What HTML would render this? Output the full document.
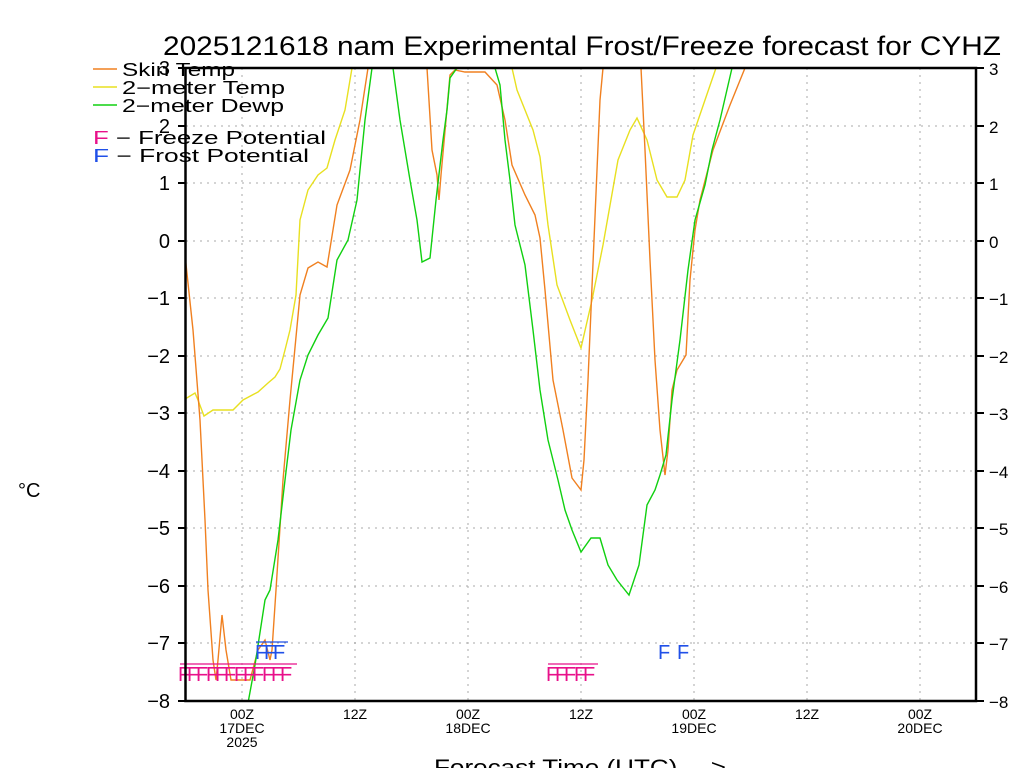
<!DOCTYPE html>
<html><head><meta charset="utf-8"><style>
html,body{margin:0;padding:0;background:#fff;}
svg{display:block;font-family:"Liberation Sans",sans-serif;}
</style></head><body>
<svg width="1024" height="768" viewBox="0 0 1024 768" xmlns="http://www.w3.org/2000/svg">
<rect width="1024" height="768" fill="#fff"/>
<g stroke="#aaa" stroke-width="1" stroke-dasharray="2,5" fill="none">
<line x1="186" y1="126" x2="976" y2="126"/><line x1="186" y1="183" x2="976" y2="183"/>
<line x1="186" y1="241" x2="976" y2="241"/><line x1="186" y1="298" x2="976" y2="298"/>
<line x1="186" y1="356" x2="976" y2="356"/><line x1="186" y1="413" x2="976" y2="413"/>
<line x1="186" y1="471" x2="976" y2="471"/><line x1="186" y1="528" x2="976" y2="528"/>
<line x1="186" y1="586" x2="976" y2="586"/><line x1="186" y1="643" x2="976" y2="643"/>
<line x1="242" y1="68" x2="242" y2="701"/><line x1="355" y1="68" x2="355" y2="701"/>
<line x1="468" y1="68" x2="468" y2="701"/><line x1="581" y1="68" x2="581" y2="701"/>
<line x1="694" y1="68" x2="694" y2="701"/><line x1="807" y1="68" x2="807" y2="701"/>
<line x1="920" y1="68" x2="920" y2="701"/>
</g>
<defs><clipPath id="c"><rect x="186" y="68" width="790" height="633"/></clipPath></defs>
<g clip-path="url(#c)" fill="none" stroke-width="1.4">
<polyline stroke="#e8e020" points="185,399 195,393 198,400 204,416 213,410 233,410 243,400 258,392 268,383 275,377 280,369 285,350 290,330 296,295 300,220 308,190 318,175 327,168 335,140 345,110 352,68 360,40 505,40 512,68 517,90 525,110 533,130 540,157 548,225 557,285 570,320 581,348 592,300 603,245 618,160 630,130 637,118 647,140 657,180 667,197 677,197 685,180 693,135 705,100 716,68"/>
<polyline stroke="#f08020" points="185,255 193,330 200,420 205,520 208,590 213,660 216,680 218,660 222,615 226,650 231,680 250,680 258,650 265,640 270,660 272,650 276,590 283,480 290,400 300,295 308,268 318,262 327,267 337,205 350,170 360,120 368,68 372,40 425,40 427,68 432,150 437,175 439,200 441,175 446,120 450,75 455,70 465,72 485,72 497,85 505,120 512,165 525,195 535,215 540,238 545,290 553,380 563,430 572,478 581,490 584,460 588,380 594,240 600,100 603,68 606,40 638,40 641,68 645,150 650,260 655,360 660,430 665,475 668,450 672,390 677,370 686,355 690,280 695,230 700,200 713,150 730,105 745,68"/>
<polyline stroke="#10d010" points="248,703 255,665 265,600 270,590 278,540 285,480 291,430 300,380 308,355 318,335 328,318 337,260 348,240 357,200 365,120 372,68 375,40 390,40 393,68 400,120 410,180 417,220 422,262 430,258 436,200 443,140 447,110 450,78 457,68 495,68 500,85 505,140 510,180 515,225 525,265 533,330 540,390 548,440 558,480 565,510 572,530 581,552 591,538 600,538 608,565 617,580 629,595 639,565 647,505 655,490 660,475 666,455 672,400 680,340 688,270 695,220 705,185 712,150 720,120 732,68"/>
</g>
<g font-size="20" fill="#e8108a">
<text x="178" y="681">F</text><text x="187" y="681">F</text><text x="196" y="681">F</text><text x="206" y="681">F</text><text x="215" y="681">F</text><text x="224" y="681">F</text><text x="234" y="681">F</text><text x="243" y="681">F</text><text x="252" y="681">F</text><text x="262" y="681">F</text><text x="271" y="681">F</text><text x="280" y="681">F</text>
<text x="546" y="681">F</text><text x="555" y="681">F</text><text x="564" y="681">F</text><text x="574" y="681">F</text><text x="583" y="681">F</text>
</g>
<g stroke="#e8108a" stroke-width="1.2"><line x1="180" y1="664" x2="297" y2="664"/><line x1="548" y1="664" x2="598" y2="664"/></g>
<g font-size="20" fill="#2050e8">
<text x="255" y="659">F</text><text x="264" y="659">F</text><text x="273" y="659">F</text>
<text x="658" y="659">F</text><text x="677" y="659">F</text>
</g>
<line x1="256" y1="642" x2="288" y2="642" stroke="#2050e8" stroke-width="1.2"/>
<rect x="185.5" y="68" width="790.5" height="633" fill="none" stroke="#000" stroke-width="2.5"/>
<g stroke="#000" stroke-width="2">
<line x1="178" y1="68" x2="186" y2="68"/><line x1="178" y1="126" x2="186" y2="126"/><line x1="178" y1="183" x2="186" y2="183"/><line x1="178" y1="241" x2="186" y2="241"/><line x1="178" y1="298" x2="186" y2="298"/><line x1="178" y1="356" x2="186" y2="356"/><line x1="178" y1="413" x2="186" y2="413"/><line x1="178" y1="471" x2="186" y2="471"/><line x1="178" y1="528" x2="186" y2="528"/><line x1="178" y1="586" x2="186" y2="586"/><line x1="178" y1="643" x2="186" y2="643"/><line x1="178" y1="701" x2="186" y2="701"/>
<line x1="976" y1="68" x2="984" y2="68"/><line x1="976" y1="126" x2="984" y2="126"/><line x1="976" y1="183" x2="984" y2="183"/><line x1="976" y1="241" x2="984" y2="241"/><line x1="976" y1="298" x2="984" y2="298"/><line x1="976" y1="356" x2="984" y2="356"/><line x1="976" y1="413" x2="984" y2="413"/><line x1="976" y1="471" x2="984" y2="471"/><line x1="976" y1="528" x2="984" y2="528"/><line x1="976" y1="586" x2="984" y2="586"/><line x1="976" y1="643" x2="984" y2="643"/><line x1="976" y1="701" x2="984" y2="701"/>
</g>
<g font-size="20" fill="#000" text-anchor="end">
<text x="170" y="75">3</text><text x="170" y="133">2</text><text x="170" y="190">1</text><text x="170" y="248">0</text><text x="170" y="305">−1</text><text x="170" y="363">−2</text><text x="170" y="420">−3</text><text x="170" y="478">−4</text><text x="170" y="535">−5</text><text x="170" y="593">−6</text><text x="170" y="650">−7</text><text x="170" y="708">−8</text>
</g>
<g font-size="17" fill="#000" text-anchor="start">
<text x="989" y="75">3</text><text x="989" y="133">2</text><text x="989" y="190">1</text><text x="989" y="248">0</text><text x="989" y="305">−1</text><text x="989" y="363">−2</text><text x="989" y="420">−3</text><text x="989" y="478">−4</text><text x="989" y="535">−5</text><text x="989" y="593">−6</text><text x="989" y="650">−7</text><text x="989" y="708">−8</text>
</g>
<g font-size="14" fill="#000" text-anchor="middle">
<text x="242" y="719">00Z</text><text x="242" y="733">17DEC</text><text x="242" y="747">2025</text>
<text x="355" y="719">12Z</text>
<text x="468" y="719">00Z</text><text x="468" y="733">18DEC</text>
<text x="581" y="719">12Z</text>
<text x="694" y="719">00Z</text><text x="694" y="733">19DEC</text>
<text x="807" y="719">12Z</text>
<text x="920" y="719">00Z</text><text x="920" y="733">20DEC</text>
</g>
<text x="434" y="775" font-size="22" textLength="292" lengthAdjust="spacingAndGlyphs" fill="#000">Forecast Time (UTC) ---&gt;</text>
<text x="18" y="497" font-size="20" fill="#000">°C</text>
<text x="163" y="55" font-size="27" textLength="838" lengthAdjust="spacingAndGlyphs" fill="#000">2025121618 nam Experimental Frost/Freeze forecast for CYHZ</text>
<g stroke-width="1.5"><line x1="93" y1="69" x2="117" y2="69" stroke="#f08020"/><line x1="93" y1="87" x2="117" y2="87" stroke="#e8e020"/><line x1="93" y1="105" x2="117" y2="105" stroke="#10d010"/></g>
<g font-size="18" fill="#000">
<text x="122" y="76" textLength="113" lengthAdjust="spacingAndGlyphs">Skin Temp</text>
<text x="122" y="94" textLength="163" lengthAdjust="spacingAndGlyphs">2−meter Temp</text>
<text x="122" y="112" textLength="162" lengthAdjust="spacingAndGlyphs">2−meter Dewp</text>
<text x="93" y="144" textLength="233" lengthAdjust="spacingAndGlyphs"><tspan fill="#e8108a">F</tspan> − Freeze Potential</text>
<text x="93" y="162" textLength="216" lengthAdjust="spacingAndGlyphs"><tspan fill="#2050e8">F</tspan> − Frost Potential</text>
</g>
</svg>
</body></html>
